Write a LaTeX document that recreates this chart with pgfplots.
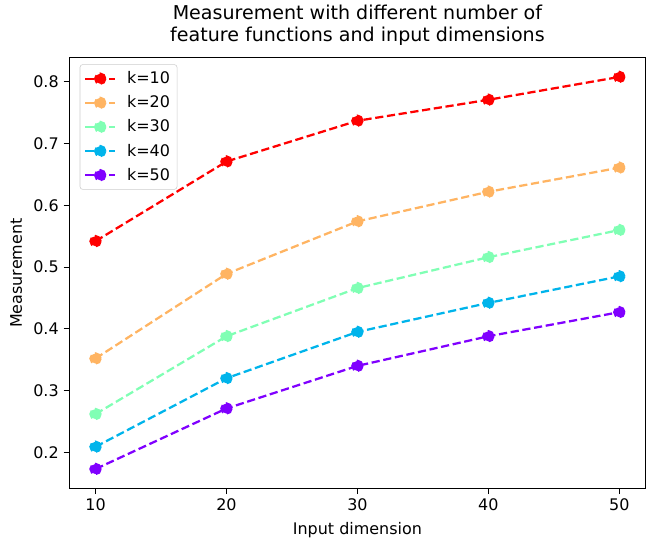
\documentclass[border={4pt 0pt 0pt 0pt}]{standalone}
\usepackage{fontspec}
\setmainfont{DejaVu Sans}
\usepackage{pgfplots}
\pgfplotsset{compat=1.18}

\definecolor{c10}{HTML}{FF0000}
\definecolor{c20}{HTML}{FFB462}
\definecolor{c30}{HTML}{80FFB4}
\definecolor{c40}{HTML}{00B4EB}
\definecolor{c50}{HTML}{8000FF}

\begin{document}
\begin{tikzpicture}
\begin{axis}[
  scale only axis, width=408pt, height=305pt,
  xmin=8, xmax=52, ymin=0.1414, ymax=0.839,
  xtick={10,20,30,40,50},
  ytick={0.2,0.3,0.4,0.5,0.6,0.7,0.8},
  yticklabel style={/pgf/number format/fixed,/pgf/number format/precision=1},
  /pgf/number format/assume math mode=true,
  tick align=outside, tick pos=left,
  major tick length=4pt,
  tick style={black, line width=0.7pt},
  axis line style={line width=0.7pt},
  tick label style={font=\fontsize{11.3}{13}\selectfont},
  label style={font=\fontsize{11.3}{13}\selectfont},
  xlabel={Input dimension}, ylabel={Measurement},
  ylabel style={yshift=1pt},
  xlabel style={yshift=-1pt},
  title style={font=\fontsize{13.5}{16}\selectfont, align=center, yshift=-1pt},
  title={Measurement with different number of\\ feature functions and input dimensions},
  legend pos=north west,
  legend cell align=left,
  legend style={font=\fontsize{11.3}{13}\selectfont, draw=black!20, rounded corners=2pt,
    row sep=3pt, inner sep=3pt, at={(0.018,0.985)},
    /tikz/every odd column/.append style={column sep=0.2cm}},
  legend image code/.code={
    \draw[mark repeat=2,mark phase=2] plot coordinates {(0cm,0cm) (0.37cm,0cm) (0.74cm,0cm)};},
  every axis plot/.append style={line width=1.6pt, dash pattern=on 5.8pt off 2.6pt,
    mark=*, mark size=3.6pt, mark options={solid, line width=0.3pt}},
]
\addplot[color=c10, mark options={fill=c10, draw=c10}] coordinates {
  (10,0.542) (20,0.671) (30,0.737) (40,0.771) (50,0.808)};
\addlegendentry{k=10}
\addplot[color=c20, mark options={fill=c20, draw=c20}] coordinates {
  (10,0.352) (20,0.489) (30,0.574) (40,0.622) (50,0.661)};
\addlegendentry{k=20}
\addplot[color=c30, mark options={fill=c30, draw=c30}] coordinates {
  (10,0.262) (20,0.388) (30,0.466) (40,0.516) (50,0.560)};
\addlegendentry{k=30}
\addplot[color=c40, mark options={fill=c40, draw=c40}] coordinates {
  (10,0.209) (20,0.320) (30,0.395) (40,0.442) (50,0.485)};
\addlegendentry{k=40}
\addplot[color=c50, mark options={fill=c50, draw=c50}] coordinates {
  (10,0.173) (20,0.271) (30,0.340) (40,0.388) (50,0.427)};
\addlegendentry{k=50}
\end{axis}
\end{tikzpicture}
\end{document}
